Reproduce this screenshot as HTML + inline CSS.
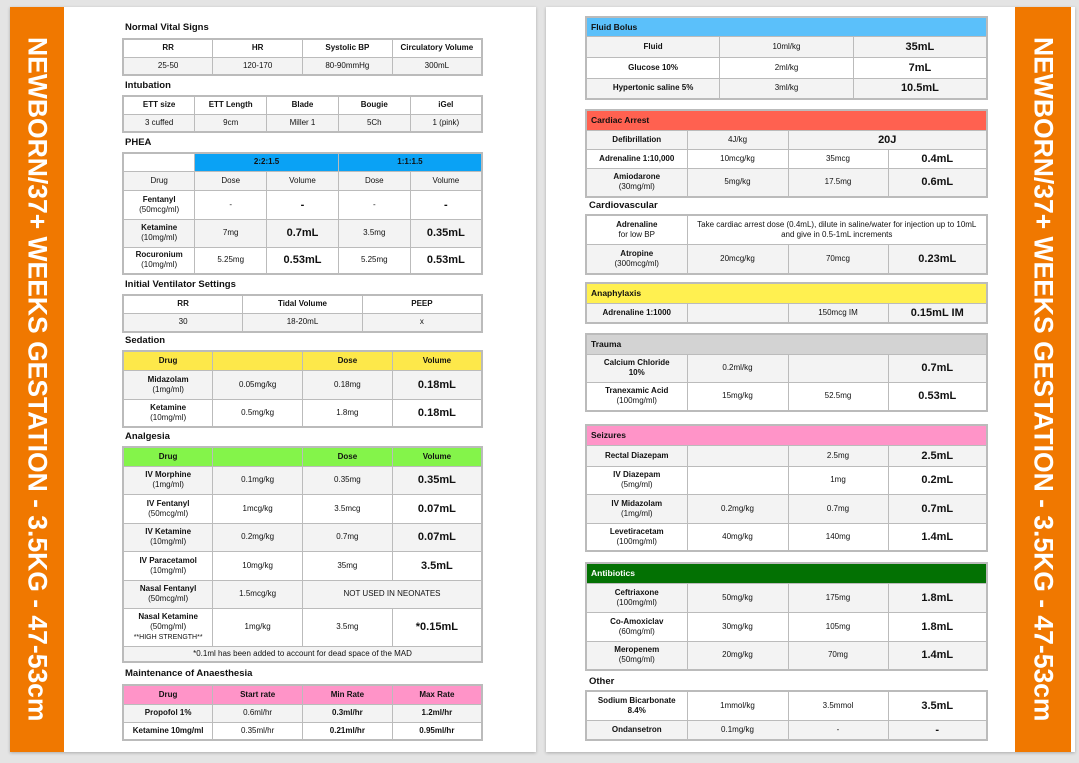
<!DOCTYPE html>
<html><head><meta charset="utf-8">
<style>
*{margin:0;padding:0;box-sizing:border-box}
body{width:1079px;height:763px;background:#e4e4e4;position:relative;overflow:hidden;font-family:"Liberation Sans",Arial,sans-serif;color:#111}
.page{position:absolute;background:#fff;box-shadow:0 1px 3px rgba(0,0,0,.25)}
.bar{position:absolute;background:#f07800;color:#fff;font-weight:bold;font-size:26.5px;writing-mode:vertical-rl;display:flex;align-items:center;justify-content:center;white-space:nowrap}
.ttl{position:absolute;font-size:9.5px;font-weight:bold}
table{position:absolute;border-collapse:collapse;table-layout:fixed;border:2px solid #bbb}
td{border:1px solid #bbb;text-align:center;vertical-align:middle;font-size:8px;line-height:10px;padding:0 2px}
td.b{font-weight:bold}
td.v{font-weight:bold;font-size:11px}
td.h{text-align:left;font-weight:bold;padding-left:4px;font-size:8.5px}
.g{background:#f3f3f3}
</style></head><body>

<div class="page" style="left:10px;top:7px;width:526px;height:745px"></div>
<div class="bar" style="left:10px;top:7px;width:54px;height:745px">NEWBORN/37+ WEEKS GESTATION - 3.5KG - 47-53cm</div>
<div class="page" style="left:546px;top:7px;width:529px;height:745px"></div>
<div class="bar" style="left:1015px;top:7px;width:56px;height:745px">NEWBORN/37+ WEEKS GESTATION - 3.5KG - 47-53cm</div>

<!-- LEFT -->
<div class="ttl" style="left:125px;top:22px">Normal Vital Signs</div>
<table style="left:122px;top:38px;width:361px">
<tr style="height:18px"><td class="b">RR</td><td class="b">HR</td><td class="b">Systolic BP</td><td class="b">Circulatory Volume</td></tr>
<tr style="height:18px" class="g"><td>25-50</td><td>120-170</td><td>80-90mmHg</td><td>300mL</td></tr>
</table>

<div class="ttl" style="left:125px;top:80px">Intubation</div>
<table style="left:122px;top:95px;width:361px">
<tr style="height:18px"><td class="b">ETT size</td><td class="b">ETT Length</td><td class="b">Blade</td><td class="b">Bougie</td><td class="b">iGel</td></tr>
<tr style="height:18px" class="g"><td>3 cuffed</td><td>9cm</td><td>Miller 1</td><td>5Ch</td><td>1 (pink)</td></tr>
</table>

<div class="ttl" style="left:125px;top:137px">PHEA</div>
<table style="left:122px;top:152px;width:361px">
<tr style="height:18px"><td></td><td class="b" colspan="2" style="background:#0aa2f5">2:2:1.5</td><td class="b" colspan="2" style="background:#0aa2f5">1:1:1.5</td></tr>
<tr style="height:19px" class="g"><td>Drug</td><td>Dose</td><td>Volume</td><td>Dose</td><td>Volume</td></tr>
<tr style="height:29px"><td><b>Fentanyl</b><br>(50mcg/ml)</td><td>-</td><td class="v">-</td><td>-</td><td class="v">-</td></tr>
<tr style="height:28px" class="g"><td><b>Ketamine</b><br>(10mg/ml)</td><td>7mg</td><td class="v">0.7mL</td><td>3.5mg</td><td class="v">0.35mL</td></tr>
<tr style="height:27px"><td><b>Rocuronium</b><br>(10mg/ml)</td><td>5.25mg</td><td class="v">0.53mL</td><td>5.25mg</td><td class="v">0.53mL</td></tr>
</table>

<div class="ttl" style="left:125px;top:279px">Initial Ventilator Settings</div>
<table style="left:122px;top:294px;width:361px">
<tr style="height:18px"><td class="b">RR</td><td class="b">Tidal Volume</td><td class="b">PEEP</td></tr>
<tr style="height:19px" class="g"><td>30</td><td>18-20mL</td><td>x</td></tr>
</table>

<div class="ttl" style="left:125px;top:335px">Sedation</div>
<table style="left:122px;top:350px;width:361px">
<tr style="height:19px;background:#fde84a"><td class="b">Drug</td><td></td><td class="b">Dose</td><td class="b">Volume</td></tr>
<tr style="height:29px" class="g"><td><b>Midazolam</b><br>(1mg/ml)</td><td>0.05mg/kg</td><td>0.18mg</td><td class="v">0.18mL</td></tr>
<tr style="height:28px"><td><b>Ketamine</b><br>(10mg/ml)</td><td>0.5mg/kg</td><td>1.8mg</td><td class="v">0.18mL</td></tr>
</table>

<div class="ttl" style="left:125px;top:431px">Analgesia</div>
<table style="left:122px;top:446px;width:361px">
<tr style="height:19px;background:#84f44a"><td class="b">Drug</td><td></td><td class="b">Dose</td><td class="b">Volume</td></tr>
<tr style="height:28px" class="g"><td><b>IV Morphine</b><br>(1mg/ml)</td><td>0.1mg/kg</td><td>0.35mg</td><td class="v">0.35mL</td></tr>
<tr style="height:29px"><td><b>IV Fentanyl</b><br>(50mcg/ml)</td><td>1mcg/kg</td><td>3.5mcg</td><td class="v">0.07mL</td></tr>
<tr style="height:28px" class="g"><td><b>IV Ketamine</b><br>(10mg/ml)</td><td>0.2mg/kg</td><td>0.7mg</td><td class="v">0.07mL</td></tr>
<tr style="height:29px"><td><b>IV Paracetamol</b><br>(10mg/ml)</td><td>10mg/kg</td><td>35mg</td><td class="v">3.5mL</td></tr>
<tr style="height:28px" class="g"><td><b>Nasal Fentanyl</b><br>(50mcg/ml)</td><td>1.5mcg/kg</td><td colspan="2">NOT USED IN NEONATES</td></tr>
<tr style="height:38px"><td><b>Nasal Ketamine</b><br>(50mg/ml)<br><span style="font-size:7px">**HIGH STRENGTH**</span></td><td>1mg/kg</td><td>3.5mg</td><td class="v">*0.15mL</td></tr>
<tr style="height:16px" class="g"><td colspan="4">*0.1ml has been added to account for dead space of the MAD</td></tr>
</table>

<div class="ttl" style="left:125px;top:668px">Maintenance of Anaesthesia</div>
<table style="left:122px;top:684px;width:361px">
<tr style="height:19px;background:#ff94c8"><td class="b">Drug</td><td class="b">Start rate</td><td class="b">Min Rate</td><td class="b">Max Rate</td></tr>
<tr style="height:18px" class="g"><td class="b">Propofol 1%</td><td>0.6ml/hr</td><td class="b">0.3ml/hr</td><td class="b">1.2ml/hr</td></tr>
<tr style="height:18px"><td class="b">Ketamine 10mg/ml</td><td>0.35ml/hr</td><td class="b">0.21ml/hr</td><td class="b">0.95ml/hr</td></tr>
</table>

<!-- RIGHT -->
<table style="left:585px;top:16px;width:403px">
<tr style="height:19px;background:#5bc0fa"><td class="h" colspan="3">Fluid Bolus</td></tr>
<tr style="height:21px" class="g"><td class="b">Fluid</td><td>10ml/kg</td><td class="v">35mL</td></tr>
<tr style="height:21px"><td class="b">Glucose 10%</td><td>2ml/kg</td><td class="v">7mL</td></tr>
<tr style="height:21px" class="g"><td class="b">Hypertonic saline 5%</td><td>3ml/kg</td><td class="v">10.5mL</td></tr>
</table>

<table style="left:585px;top:109px;width:403px">
<colgroup><col style="width:101px"><col style="width:101px"><col style="width:100px"><col></colgroup>
<tr style="height:20px;background:#ff6150"><td class="h" colspan="4">Cardiac Arrest</td></tr>
<tr style="height:19px" class="g"><td class="b">Defibrillation</td><td>4J/kg</td><td class="v" colspan="2">20J</td></tr>
<tr style="height:19px"><td class="b">Adrenaline 1:10,000</td><td>10mcg/kg</td><td>35mcg</td><td class="v">0.4mL</td></tr>
<tr style="height:29px" class="g"><td><b>Amiodarone</b><br>(30mg/ml)</td><td>5mg/kg</td><td>17.5mg</td><td class="v">0.6mL</td></tr>
</table>

<div class="ttl" style="left:589px;top:200px">Cardiovascular</div>
<table style="left:585px;top:214px;width:403px">
<colgroup><col style="width:101px"><col style="width:101px"><col style="width:100px"><col></colgroup>
<tr style="height:29px"><td><b>Adrenaline</b><br>for low BP</td><td colspan="3">Take cardiac arrest dose (0.4mL), dilute in saline/water for injection up to 10mL and give in 0.5-1mL increments</td></tr>
<tr style="height:30px" class="g"><td><b>Atropine</b><br>(300mcg/ml)</td><td>20mcg/kg</td><td>70mcg</td><td class="v">0.23mL</td></tr>
</table>

<table style="left:585px;top:282px;width:403px">
<colgroup><col style="width:101px"><col style="width:101px"><col style="width:100px"><col></colgroup>
<tr style="height:20px;background:#fff050"><td class="h" colspan="4">Anaphylaxis</td></tr>
<tr style="height:20px" class="g"><td class="b">Adrenaline 1:1000</td><td></td><td>150mcg IM</td><td class="v">0.15mL IM</td></tr>
</table>

<table style="left:585px;top:333px;width:403px">
<colgroup><col style="width:101px"><col style="width:101px"><col style="width:100px"><col></colgroup>
<tr style="height:20px;background:#d3d3d3"><td class="h" colspan="4">Trauma</td></tr>
<tr style="height:28px" class="g"><td class="b">Calcium Chloride<br>10%</td><td>0.2ml/kg</td><td></td><td class="v">0.7mL</td></tr>
<tr style="height:29px"><td><b>Tranexamic Acid</b><br>(100mg/ml)</td><td>15mg/kg</td><td>52.5mg</td><td class="v">0.53mL</td></tr>
</table>

<table style="left:585px;top:424px;width:403px">
<colgroup><col style="width:101px"><col style="width:101px"><col style="width:100px"><col></colgroup>
<tr style="height:20px;background:#ff94c8"><td class="h" colspan="4">Seizures</td></tr>
<tr style="height:21px" class="g"><td class="b">Rectal Diazepam</td><td></td><td>2.5mg</td><td class="v">2.5mL</td></tr>
<tr style="height:28px"><td><b>IV Diazepam</b><br>(5mg/ml)</td><td></td><td>1mg</td><td class="v">0.2mL</td></tr>
<tr style="height:29px" class="g"><td><b>IV Midazolam</b><br>(1mg/ml)</td><td>0.2mg/kg</td><td>0.7mg</td><td class="v">0.7mL</td></tr>
<tr style="height:28px"><td><b>Levetiracetam</b><br>(100mg/ml)</td><td>40mg/kg</td><td>140mg</td><td class="v">1.4mL</td></tr>
</table>

<table style="left:585px;top:562px;width:403px">
<colgroup><col style="width:101px"><col style="width:101px"><col style="width:100px"><col></colgroup>
<tr style="height:20px;background:#037103;color:#fff"><td class="h" colspan="4">Antibiotics</td></tr>
<tr style="height:29px" class="g"><td><b>Ceftriaxone</b><br>(100mg/ml)</td><td>50mg/kg</td><td>175mg</td><td class="v">1.8mL</td></tr>
<tr style="height:29px"><td><b>Co-Amoxiclav</b><br>(60mg/ml)</td><td>30mg/kg</td><td>105mg</td><td class="v">1.8mL</td></tr>
<tr style="height:29px" class="g"><td><b>Meropenem</b><br>(50mg/ml)</td><td>20mg/kg</td><td>70mg</td><td class="v">1.4mL</td></tr>
</table>

<div class="ttl" style="left:589px;top:676px">Other</div>
<table style="left:585px;top:690px;width:403px">
<colgroup><col style="width:101px"><col style="width:101px"><col style="width:100px"><col></colgroup>
<tr style="height:29px"><td class="b">Sodium Bicarbonate<br>8.4%</td><td>1mmol/kg</td><td>3.5mmol</td><td class="v">3.5mL</td></tr>
<tr style="height:20px" class="g"><td class="b">Ondansetron</td><td>0.1mg/kg</td><td>-</td><td class="v">-</td></tr>
</table>

</body></html>
